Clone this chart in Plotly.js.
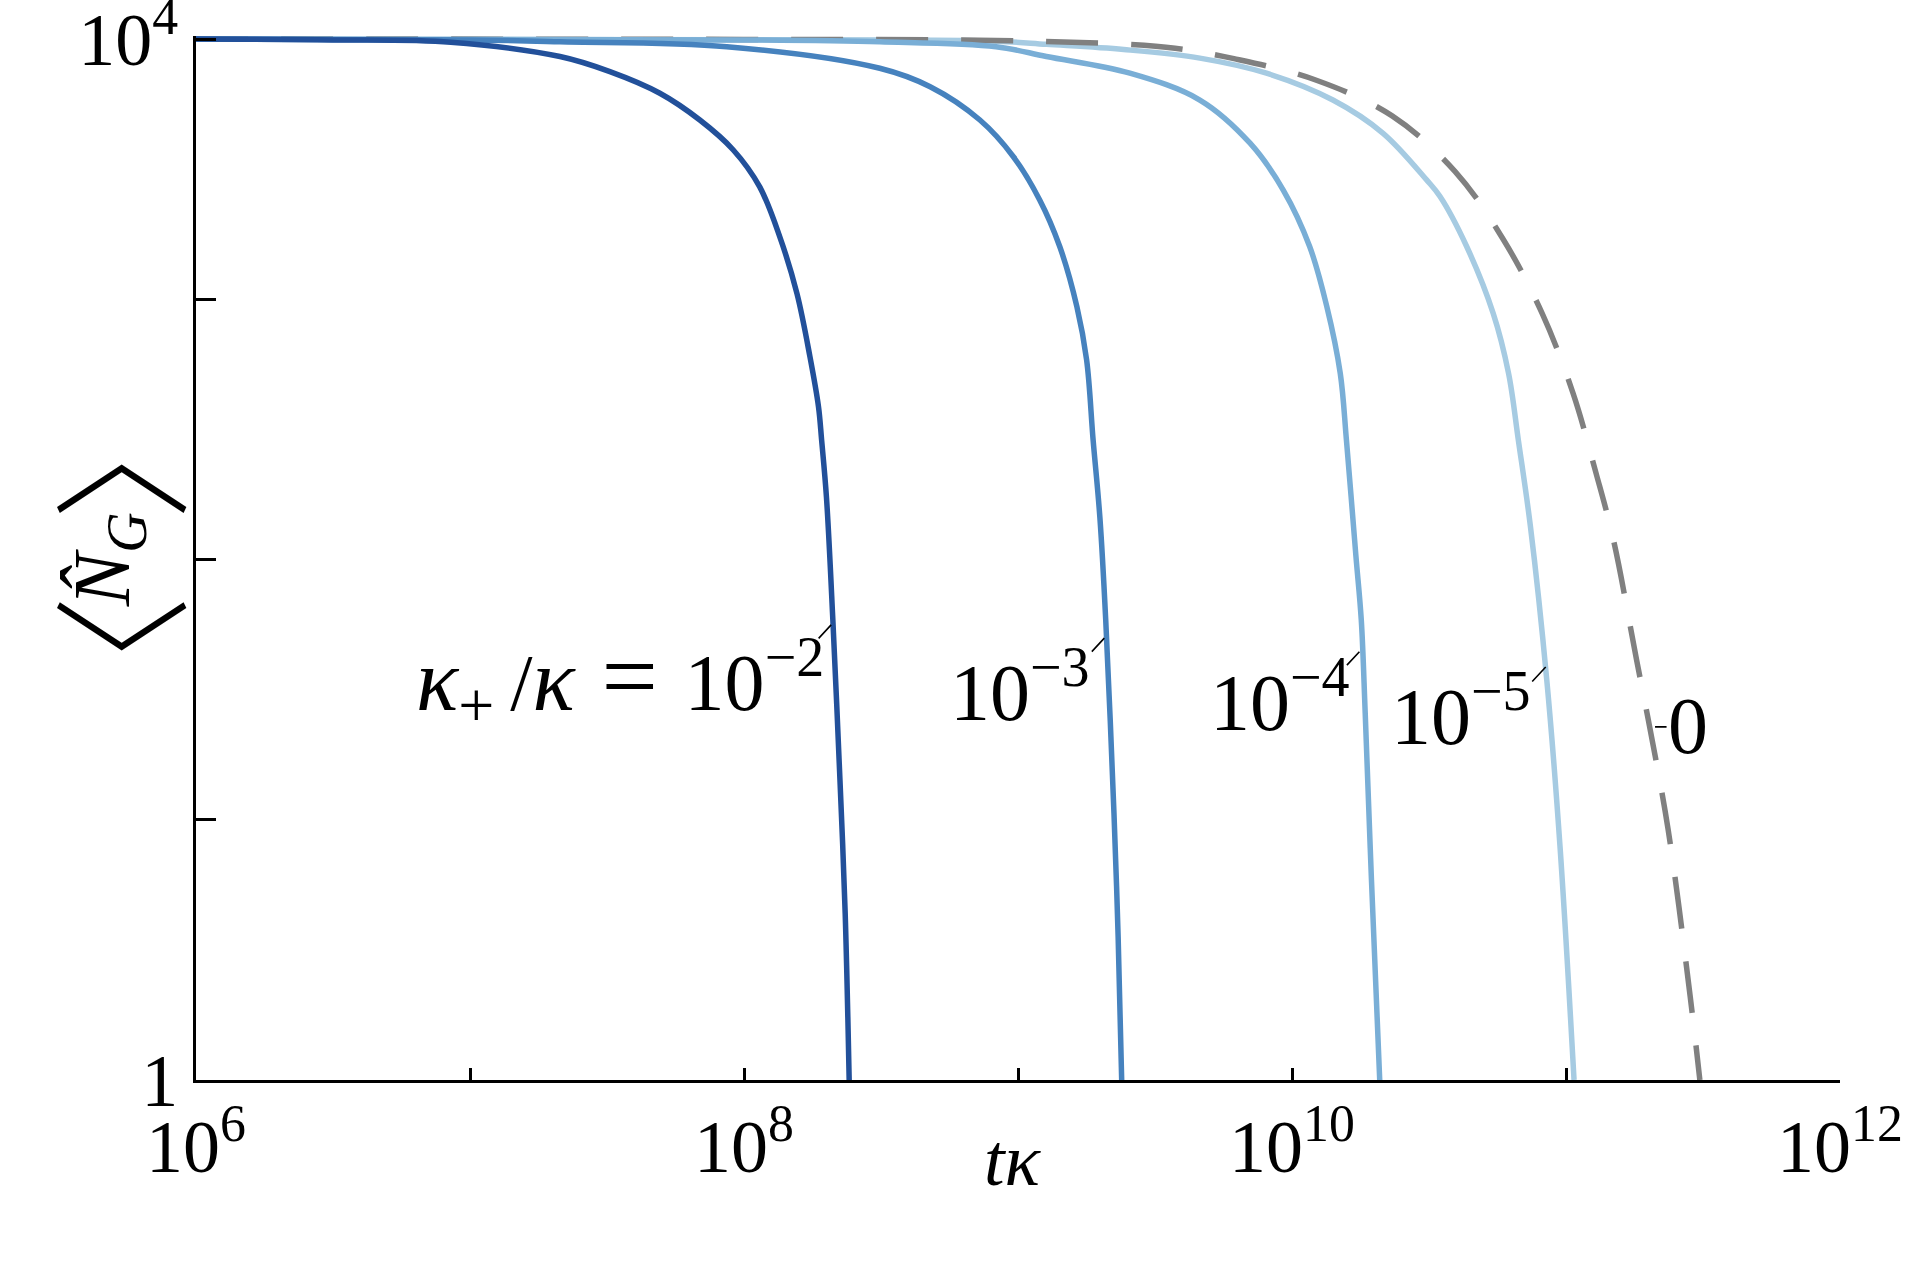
<!DOCTYPE html>
<html>
<head>
<meta charset="utf-8">
<script src="https://cdn.plot.ly/plotly-3.0.1.min.js"></script>
<style>
	body { margin: 0; background: #fff; }
	#chart { width: 1920px; height: 1280px; }
</style>
</head>
<body>
<div id="chart"></div>
<script>
// values: t*kappa and <N_G>, one pair of arrays per ratio kappa_+/kappa
const ratio_labels = ['10<sup>−2</sup>', '10<sup>−3</sup>', '10<sup>−4</sup>', '10<sup>−5</sup>', '0']

const t_2 = [1e6, 3.16e6, 8.51e6, 2.13e7, 3.24e7, 4.93e7, 6.9e7, 9.14e7, 1.14e8, 1.35e8, 1.56e8, 1.74e8, 1.87e8, 1.92e8, 2.0e8, 2.11e8, 2.24e8, 2.34e8, 2.42e8]
const n_2 = [10000, 9931, 9727, 8570, 7499, 6194, 4887, 3750, 2710, 1742, 1054, 603, 387, 288, 173, 58.6, 14.2, 4.39, 1]

const t_3 = [1e6, 1e7, 2.13e7, 8.65e7, 3.13e8, 4.78e8, 7.26e8, 9.62e8, 1.2e9, 1.42e9, 1.64e9, 1.78e9, 1.88e9, 1.99e9, 2.09e9, 2.24e9, 2.32e9, 2.39e9]
const n_3 = [10000, 9931, 9772, 9354, 7727, 6561, 4887, 3532, 2410, 1596, 938, 585, 288, 145, 58.6, 10.6, 3.55, 1]

const t_4 = [1e6, 1e8, 3.13e8, 8.32e8, 1.27e9, 2.56e9, 4.61e9, 7.03e9, 9.29e9, 1.16e10, 1.34e10, 1.5e10, 1.58e10, 1.71e10, 1.79e10, 1.85e10, 1.95e10, 2.09e10]
const n_4 = [10000, 9931, 9772, 9354, 8570, 7396, 5834, 3981, 2630, 1596, 938, 520, 288, 104, 58.6, 25.7, 5.87, 1]

const t_5 = [1e6, 1e8, 8.32e8, 1.27e9, 2.43e9, 4.61e9, 8.07e9, 1.41e10, 2.15e10, 3.1e10, 3.47e10, 4.34e10, 5.42e10, 6.17e10, 6.7e10, 7.41e10, 8.51e10, 9.51e10, 1.07e11]
const n_5 = [10000, 9954, 9817, 9550, 9120, 8453, 7396, 5834, 4345, 2877, 2483, 1596, 885, 520, 288, 135, 34.4, 7.89, 1]

const t_0 = [1e6, 1e8, 8.32e8, 2.51e9, 3.74e9, 6.14e9, 1.22e10, 2.32e10, 3.94e10, 5.89e10, 8.2e10, 1.06e11, 1.29e11, 1.49e11, 1.81e11, 2.0e11, 2.36e11, 2.84e11, 3.08e11]
const n_0 = [10000, 9977, 9886, 9550, 9226, 8414, 6966, 5070, 3097, 1706, 879, 437, 213, 119, 41.1, 24.0, 9.14, 2.09, 1]

const x_ticks = [1e6, 1e7, 1e8, 1e9, 1e10, 1e11, 1e12]
const x_tick_text = ['10<sup>6</sup>', '', '10<sup>8</sup>', '', '10<sup>10</sup>', '', '10<sup>12</sup>']
const y_ticks = [1, 10, 100, 1000, 10000]
const y_tick_text = ['1', '', '', '', '10<sup>4</sup>']

const serif = 'Liberation Serif, DejaVu Serif, serif'

function curve(t, n, colour, dash) {
	return {
		x: t,
		y: n,
		type: 'scatter',
		mode: 'lines',
		line: {color: colour, width: 5.5, shape: 'spline', smoothing: 1, simplify: false, dash: dash || 'solid'},
		hoverinfo: 'skip',
	}
}

// label next to a curve plus the short leader line joining them
function label(text, lx, ly, anchor) {
	return {
		xref: 'x', yref: 'y', x: lx, y: ly,
		text: text, showarrow: false,
		xanchor: anchor, yanchor: 'middle',
		font: {family: serif, size: 80, color: '#000'},
	}
}
function leader(px, py, ax, ay) {
	return {
		xref: 'x', yref: 'y', x: px, y: py,
		text: ' ', font: {size: 1},
		showarrow: true, arrowhead: 0, arrowwidth: 1.6, arrowcolor: '#000',
		ax: ax, ay: ay, standoff: 0, borderpad: 0,
	}
}
// pieces of the rotated y title
function ytitle(text, px, py) {
	return {
		xref: 'paper', yref: 'paper', x: px, y: py,
		text: text, textangle: -90, showarrow: false,
		xanchor: 'center', yanchor: 'middle',
		font: {family: serif, size: 80, color: '#000'},
	}
}

const kappa = '<span style="font-size:88px"><i>κ</i></span>'
const bracket = s => '<span style="font-family:\'Noto Sans CJK JP\';font-weight:200;font-size:140px">' + s + '</span>'

Plotly.newPlot('chart', [
	curve(t_5, n_5, '#a6cbe2'),
	curve(t_0, n_0, '#808080', '52px,33px'),
	curve(t_4, n_4, '#79aed6'),
	curve(t_3, n_3, '#4682be'),
	curve(t_2, n_2, '#22509a'),
], {
	width: 1920,
	height: 1280,
	margin: {l: 196, r: 80, t: 36, b: 200},
	paper_bgcolor: '#fff',
	plot_bgcolor: '#fff',
	showlegend: false,
	font: {family: serif, size: 74, color: '#000'},
	xaxis: {
		type: 'log',
		range: [6, 12],
		showgrid: false,
		zeroline: false,
		showline: true,
		linecolor: '#000',
		linewidth: 3,
		ticks: 'inside',
		ticklen: 12,
		tickwidth: 3,
		tickcolor: '#000',
		tickvals: x_ticks,
		ticktext: x_tick_text,
		ticklabeloverflow: 'allow',
		tickfont: {family: serif, size: 74, color: '#000'},
	},
	yaxis: {
		type: 'log',
		range: [0, 4.012],
		showgrid: false,
		zeroline: false,
		showline: true,
		linecolor: '#000',
		linewidth: 3,
		ticks: 'inside',
		ticklen: 20,
		tickwidth: 3,
		tickcolor: '#000',
		tickvals: y_ticks,
		ticktext: y_tick_text,
		ticklabeloverflow: 'allow',
		tickfont: {family: serif, size: 74, color: '#000'},
	},
	annotations: [
		label(kappa + '<sub><span style="font-size:64px">+</span></sub>\u2009/' + kappa + '\u2004<span style="font-size:100px">=</span>\u2004' + ratio_labels[0], 8.298, 1.534, 'right'),
		label(ratio_labels[1], 9.27, 1.513, 'right'),
		label(ratio_labels[2], 10.218, 1.475, 'right'),
		label(ratio_labels[3], 10.878, 1.42, 'right'),
		label(ratio_labels[4], 11.365, 1.36, 'left'),
		leader(8.318, 1.749, -13, 14),
		leader(9.315, 1.698, -13, 14),
		leader(10.246, 1.646, -13, 14),
		leader(10.926, 1.587, -14, 15),
		leader(11.325, 1.357, 12, 0),
		{
			xref: 'paper', yref: 'paper', x: 0.497, y: -0.0766,
			text: '<i>tκ</i>', showarrow: false,
			xanchor: 'center', yanchor: 'middle',
			font: {family: serif, size: 74, color: '#000'},
		},
		ytitle(bracket('〈'), -0.0496, 0.398),
		ytitle('<i>N̂</i><sub><i>G</i></sub>', -0.0535, 0.498),
		ytitle(bracket('〉'), -0.0496, 0.604),
	],
}, {staticPlot: true})
</script>
</body>
</html>
